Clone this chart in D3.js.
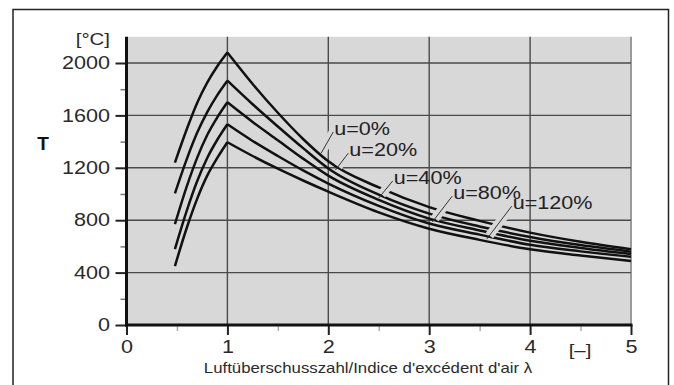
<!DOCTYPE html>
<html>
<head>
<meta charset="utf-8">
<script src="https://cdn.jsdelivr.net/npm/d3@7"></script>
<style>
  body { margin: 0; background: #fff; }
  svg { display: block; font-family: Arial, "Liberation Sans", Helvetica, sans-serif; }
</style>
</head>
<body>
<script>
// values
var lambdaRise = [0.48, 0.6, 0.7, 0.8, 0.9, 1.0];
var lambdaFall = [1.0, 1.25, 1.5, 1.75, 2.0, 2.5, 3.0, 3.5, 4.0, 4.5, 5.0];
var seriesNames = ["u=0%", "u=20%", "u=40%", "u=80%", "u=120%"];

var riseU0   = [1240, 1500, 1695, 1850, 1975, 2080];
var riseU20  = [1005, 1272, 1467, 1625, 1755, 1865];
var riseU40  = [770, 1064, 1276, 1450, 1585, 1700];
var riseU80  = [580, 879, 1097, 1275, 1414, 1532];
var riseU120 = [450, 748, 963, 1140, 1275, 1395];

var fallU0   = [2080, 1840, 1620, 1420, 1250, 1050, 900, 795, 705, 635, 578];
var fallU20  = [1865, 1685, 1515, 1350, 1195, 995, 850, 752, 672, 610, 560];
var fallU40  = [1700, 1550, 1410, 1270, 1140, 955, 812, 722, 643, 588, 542];
var fallU80  = [1532, 1405, 1290, 1180, 1080, 910, 775, 690, 612, 562, 521];
var fallU120 = [1395, 1290, 1193, 1103, 1018, 860, 735, 650, 578, 530, 488];

var leaderLambda = [1.93, 2.07, 2.5, 3.03, 3.57];

var yTicks = [0, 400, 800, 1200, 1600, 2000];
var yMinor = [200, 600, 1000, 1400, 1800];
var xTicks = [0, 1, 2, 3, 4, 5];
var xMinor = [0.5, 1.5, 2.5, 3.5, 4.5];

var yUnit = "[°C]";
var yTitle = "T";
var xUnit = "[–]";
var xTitle = "Luftüberschusszahl/Indice d'excédent d'air λ";

var riseData = [riseU0, riseU20, riseU40, riseU80, riseU120];
var fallData = [fallU0, fallU20, fallU40, fallU80, fallU120];

// layout
var W = 674, H = 385;
var plotL = 126.5, plotR = 631, plotT = 36.8, plotB = 325;
var bg = "#d8d8d8";
var labelOffsets = [[12, -21], [13, -17], [14, -17], [20, -26], [25, -33]];

var svg = d3.select("body").append("svg")
    .attr("width", W)
    .attr("height", H);

var x = d3.scaleLinear().domain([0, 5]).range([plotL, plotR]);
var y = d3.scaleLinear().domain([0, 2200]).range([plotB, plotT]);

// outer frame (open at bottom)
svg.append("path")
    .attr("d", "M13,385V9.5H668.5V385")
    .attr("fill", "none")
    .attr("stroke", "#222")
    .attr("stroke-width", 1.5);

svg.append("rect")
    .attr("x", plotL).attr("y", plotT)
    .attr("width", plotR - plotL).attr("height", plotB - plotT)
    .attr("fill", bg);

// grid
svg.append("g").selectAll("line")
    .data(xTicks.slice(1))
    .enter().append("line")
    .attr("x1", function (d) { return x(d); })
    .attr("x2", function (d) { return x(d); })
    .attr("y1", plotT).attr("y2", plotB)
    .attr("stroke", function (d) { return d === 5 ? "#9a9a9a" : "#4a4a4a"; })
    .attr("stroke-width", function (d) { return d === 5 ? 2 : 1.4; });

svg.append("g").selectAll("line")
    .data(yTicks.slice(1))
    .enter().append("line")
    .attr("x1", plotL).attr("x2", plotR)
    .attr("y1", function (d) { return y(d); })
    .attr("y2", function (d) { return y(d); })
    .attr("stroke", "#4a4a4a")
    .attr("stroke-width", 1.4);

// curves, two branches each so the peak stays sharp
var line = d3.line()
    .x(function (d) { return x(d[0]); })
    .y(function (d) { return y(d[1]); })
    .curve(d3.curveMonotoneX);

var curves = svg.append("g");
seriesNames.forEach(function (name, i) {
    var rise = lambdaRise.map(function (l, j) { return [l, riseData[i][j]]; });
    var fall = lambdaFall.map(function (l, j) { return [l, fallData[i][j]]; });
    [rise, fall].forEach(function (pts) {
        curves.append("path")
            .datum(pts)
            .attr("fill", "none")
            .attr("stroke", "#111")
            .attr("stroke-width", 2.5)
            .attr("d", line);
    });
});

function valueAt(i, l) {
    return d3.scaleLinear().domain(lambdaFall).range(fallData[i])(l);
}

// leaders with a background halo that cuts the curves they cross
var leaders = seriesNames.map(function (name, i) {
    var tx = x(leaderLambda[i]);
    var ty = y(valueAt(i, leaderLambda[i])) - 2;
    return {
        name: name,
        x0: tx, y0: ty,
        x1: tx + labelOffsets[i][0], y1: ty + labelOffsets[i][1]
    };
});

var notes = svg.append("g");
leaders.forEach(function (d) {
    var dx = d.x1 - d.x0, dy = d.y1 - d.y0;
    var len = Math.sqrt(dx * dx + dy * dy);
    var cut = 4.5 / len;
    notes.append("line")
        .attr("x1", d.x0 + dx * cut).attr("y1", d.y0 + dy * cut)
        .attr("x2", d.x1).attr("y2", d.y1)
        .attr("stroke", bg)
        .attr("stroke-width", 9);
});
leaders.forEach(function (d) {
    notes.append("line")
        .attr("x1", d.x0).attr("y1", d.y0)
        .attr("x2", d.x1).attr("y2", d.y1)
        .attr("stroke", "#333")
        .attr("stroke-width", 1);
    notes.append("text")
        .attr("transform", "translate(" + (d.x1 + 1) + "," + (d.y1 - 3.5) + ") scale(1.2,1)")
        .attr("dy", "0.35em")
        .attr("font-size", 18)
        .attr("fill", "#222")
        .text(d.name);
});

// axes
var yAxis = d3.axisLeft(y).tickValues(yTicks).tickSize(11).tickPadding(2.8)
    .tickFormat(d3.format("d"));
var gy = svg.append("g")
    .attr("transform", "translate(" + plotL + ",0)")
    .call(yAxis);
gy.select(".domain").remove();
gy.selectAll(".tick line").attr("stroke", "#222").attr("stroke-width", 2);
gy.selectAll(".tick text")
    .attr("font-size", 18)
    .attr("fill", "#2a2a2a")
    .attr("transform", "scale(1.2,1)");

var gyMinor = svg.append("g")
    .attr("transform", "translate(" + plotL + ",0)")
    .call(d3.axisLeft(y).tickValues(yMinor).tickSize(6).tickFormat(""));
gyMinor.select(".domain").remove();
gyMinor.selectAll(".tick line").attr("stroke", "#777").attr("stroke-width", 1.5);

var xAxis = d3.axisBottom(x).tickValues(xTicks).tickSize(10).tickPadding(5)
    .tickFormat(d3.format("d"));
var gx = svg.append("g")
    .attr("transform", "translate(0," + plotB + ")")
    .call(xAxis);
gx.select(".domain").remove();
gx.selectAll(".tick line").attr("stroke", "#222").attr("stroke-width", 2);
gx.selectAll(".tick text")
    .attr("font-size", 18)
    .attr("fill", "#2a2a2a")
    .attr("transform", "scale(1.2,1)");

var gxMinor = svg.append("g")
    .attr("transform", "translate(0," + plotB + ")")
    .call(d3.axisBottom(x).tickValues(xMinor).tickSize(6).tickFormat(""));
gxMinor.select(".domain").remove();
gxMinor.selectAll(".tick line").attr("stroke", "#aaa").attr("stroke-width", 1.5);

// thick axis lines
svg.append("line")
    .attr("x1", plotL).attr("x2", plotL)
    .attr("y1", plotT).attr("y2", plotB + 1.5)
    .attr("stroke", "#111").attr("stroke-width", 3);
svg.append("line")
    .attr("x1", plotL - 1.5).attr("x2", plotR + 1.5)
    .attr("y1", plotB).attr("y2", plotB)
    .attr("stroke", "#111").attr("stroke-width", 3);

// titles and units
svg.append("text")
    .attr("transform", "translate(110,39) scale(1.2,1)")
    .attr("text-anchor", "end")
    .attr("dy", "0.35em")
    .attr("font-size", 17)
    .attr("fill", "#2a2a2a")
    .text(yUnit);

svg.append("text")
    .attr("x", 43).attr("y", 143)
    .attr("text-anchor", "middle")
    .attr("dy", "0.35em")
    .attr("font-size", 19)
    .attr("font-weight", "bold")
    .attr("fill", "#111")
    .text(yTitle);

svg.append("text")
    .attr("transform", "translate(580,350) scale(1.2,1)")
    .attr("text-anchor", "middle")
    .attr("dy", "0.35em")
    .attr("font-size", 17)
    .attr("fill", "#2a2a2a")
    .text(xUnit);

svg.append("text")
    .attr("transform", "translate(368,368) scale(1.2,1)")
    .attr("text-anchor", "middle")
    .attr("dy", "0.35em")
    .attr("font-size", 14)
    .attr("fill", "#2a2a2a")
    .text(xTitle);
</script>
</body>
</html>
